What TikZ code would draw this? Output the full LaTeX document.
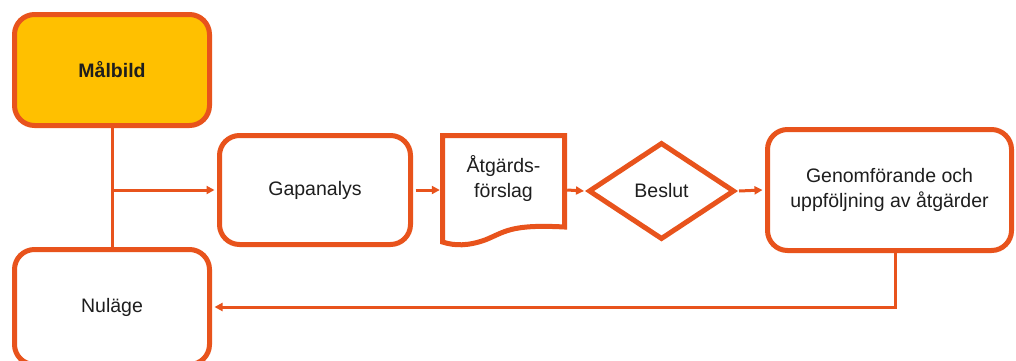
\documentclass[tikz,border=0pt]{standalone}
\usepackage{fontspec}
\setmainfont{Liberation Sans}
\usetikzlibrary{shapes.geometric,arrows.meta}
\definecolor{orng}{HTML}{E8531C}
\definecolor{gold}{HTML}{FFC000}
\definecolor{txt}{HTML}{1E1E1E}
\begin{document}
\begin{tikzpicture}[x=1pt,y=-1pt,
  box/.style={draw=orng,line width=5pt,rounded corners=20pt,fill=white,align=center,
    text=txt,font=\fontsize{19.5}{25}\selectfont,inner sep=0pt},
  conn/.style={draw=orng,line width=3pt},
  arr/.style={conn,-{Triangle[length=8pt,width=8pt]}},
  lbl/.style={text=txt,font=\fontsize{19.5}{25}\selectfont,align=center,inner sep=0pt}]
\useasboundingbox (0,0) rectangle (1016,360);
\fill[white] (0,0) rectangle (1016,360);
% connectors behind boxes
\coordinate (br) at (112,190);
\draw[conn] (112,128) -- (112,248);
% nodes
\node[box,fill=gold,font=\fontsize{19.5}{25}\selectfont\bfseries,minimum width=195pt,minimum height=111pt] (M) at (112,70) {Målbild};
\node[box,minimum width=195pt,minimum height=115pt] (N) at (112,307) {Nuläge};
\node[box,minimum width=191pt,minimum height=109pt] (Gap) at (315,190) {Gapanalys};
\node[inner sep=0pt,minimum width=122pt,minimum height=100pt] (doc) at (503.5,190) {};
\draw[orng,line width=5pt,line join=miter,fill=white]
  (442.5,135.5) -- (564.5,135.5) -- (564.5,227)
  .. controls (510,224) and (505,232) .. (485,240)
  .. controls (468,246) and (455,246) .. (442.5,242) -- cycle;
\node[lbl] (doctxt) at (503.5,179) {Åtgärds-\\förslag};
\node[diamond,draw=orng,line width=5pt,fill=white,inner sep=0pt,minimum width=146pt,minimum height=97pt,
  text=txt,font=\fontsize{19.5}{25}\selectfont] (B) at (661.5,191) {Beslut};
\node[box,minimum width=244pt,minimum height=121pt] (Gen) at (889.5,190) {Genomförande och\\uppföljning av åtgärder};
% connectors
\draw[arr] (br) -- ([xshift=-2.5pt]Gap.west);
\draw[arr] ([xshift=2.5pt]Gap.east) -- ([xshift=-2.5pt]doc.west);
\draw[arr] ([xshift=2.5pt]doc.east) -- ([xshift=-2pt]B.west);
\draw[arr] ([xshift=2pt]B.east) -- ([xshift=-2.5pt]Gen.west);
\draw[arr] ([xshift=5.5pt,yshift=2.5pt]Gen.south) |- ([xshift=2.5pt]N.east);
\end{tikzpicture}
\end{document}
